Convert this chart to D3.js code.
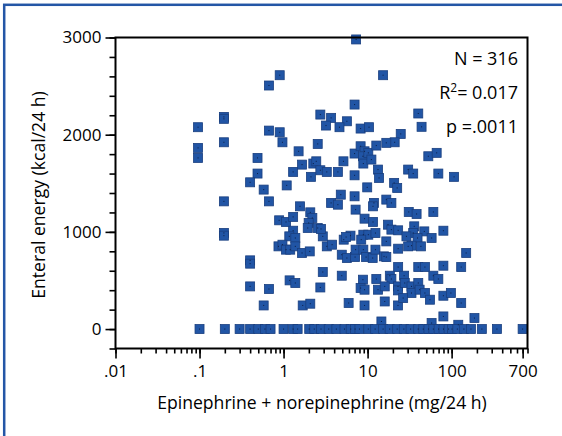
<!DOCTYPE html>
<html>
<head>
<meta charset="utf-8">
<script src="https://cdn.jsdelivr.net/npm/d3@7"></script>
<style>
  body { margin: 0; background: #fff; }
  svg text { font-family: "Open Sans", sans-serif; fill: #000; }
</style>
</head>
<body>
<div class="viz"></div>
<script>
// vasopressor dose (mg/24 h) vs enteral energy (kcal/24 h), one entry per visible marker
const epiNorepi = [
  7.3, 0.90, 0.67, 7.0, 2.74, 3.68, 3.2, 5.67, 4.63, 8.26, 10.4, 0.195, 0.195, 0.096, 0.67, 0.90,
  0.096, 0.096, 0.195, 0.97, 2.55, 1.51, 0.49, 1.66, 2.26, 2.45, 2.74, 3.27, 1.30, 5.16, 4.43, 2.12,
  7.0, 0.49, 0.40, 1.09, 0.58, 0.67, 0.195, 7.0, 8.26, 9.2, 8.8, 10.2, 8.9, 11.1, 12.7, 9.9,
  7.0, 4.8, 3.68, 4.43, 1.57, 7.2, 11.9, 11.6, 0.886, 1.07, 1.30, 2.08, 2.2, 1.99, 1.94, 2.55,
  1.30, 1.17, 1.38, 2.93, 2.79, 9.2, 11.6, 8.9, 10.2, 12.4, 6.26, 5.2, 5.55, 0.87, 0.97, 1.07,
  1.20, 1.38, 1.66, 2.05, 3.27, 3.78, 4.93, 5.67, 7.1, 7.2, 8.9, 9.6, 11.5, 12.4, 8.4, 0.40,
  0.40, 2.93, 1.18, 1.38, 0.40, 0.67, 2.74, 4.93, 8.8, 8.26, 9.2, 13.3, 12.7, 0.58, 1.69, 2.08,
  5.95, 9.2, 0.195, 0.195, 13.3, 13.7,
  15.3, 40.1, 43.9, 24.8, 21.0, 16.7, 52.8, 66.4, 30.4, 34.9, 69.5, 107, 20.7, 22.5, 16.7, 19.2,
  30.9, 38.3, 60.6, 17.5, 19.2, 23.1, 35.9, 34.9, 29.0, 47.3, 57.8, 79.8, 39.3, 33.3, 43.1, 23.1,
  30.4, 16.7, 15.7, 16.7, 149, 130, 79.8, 40.1, 48.1, 23.1, 27.2, 18.4, 19.2, 60.6, 69.5, 16.0,
  23.0, 23.0, 27.7, 33.3, 33.3, 40.1, 41.6, 48.1, 55.2, 79.8, 98, 130, 16.0, 23.0, 26.5, 79.8,
  187, 14.6, 57.8, 120,
  // patients with no enteral energy
  0.1, 0.2, 0.3, 0.4, 0.5, 0.6, 0.7, 1, 1.3, 1.47, 2.02, 2.32, 2.79, 3.45, 4.25, 5.31,
  6.3, 7.1, 8.0, 10.2, 12.3, 15.3, 18.3, 22.5, 27, 32.5, 40, 46, 53, 60.6, 70, 80,
  92, 101, 117, 140, 170, 229, 346, 700
];
const enteralKcal = [
  2980, 2612, 2506, 2310, 2207, 2173, 2094, 2138, 2077, 2063, 2077, 2183, 2163, 2077, 2042, 2025,
  1864, 1761, 1922, 1922, 1905, 1829, 1761, 1692, 1703, 1726, 1634, 1617, 1617, 1726, 1617, 1566,
  1582, 1600, 1510, 1478, 1435, 1314, 1314, 1806, 1881, 1829, 1778, 1813, 1703, 1744, 1888, 1458,
  1366, 1383, 1298, 1280, 1263, 1229, 1298, 1263, 1119, 1102, 1154, 1201, 1143, 1092, 1040, 1040,
  1012, 954, 937, 954, 1030, 1136, 1102, 971, 971, 988, 961, 920, 947, 851, 868, 817,
  817, 851, 783, 799, 851, 868, 765, 731, 741, 817, 817, 741, 731, 817, 920, 707,
  673, 587, 501, 474, 439, 412, 428, 549, 508, 422, 405, 405, 515, 243, 243, 261,
  268, 243, 989, 961, 1641, 1555,
  2612, 2218, 2081, 2008, 1922, 1916, 1778, 1813, 1641, 1600, 1600, 1566, 1504, 1452, 1332, 1298,
  1205, 1184, 1205, 1074, 1023, 1016, 1057, 989, 954, 1005, 937, 1012, 937, 858, 851, 827,
  851, 902, 748, 741, 783, 638, 652, 638, 638, 638, 549, 549, 515, 549, 515, 439,
  439, 398, 474, 439, 371, 474, 405, 371, 302, 343, 371, 268, 284, 243, 319, 130,
  113, 78, 62, 44,
  0, 0, 0, 0, 0, 0, 0, 0, 0, 0, 0, 0, 0, 0, 0, 0,
  0, 0, 0, 0, 0, 0, 0, 0, 0, 0, 0, 0, 0, 0, 0, 0,
  0, 0, 0, 0, 0, 0, 0, 0
];

const xTickValues = [0.01, 0.1, 1, 10, 100, 700];
const xTickLabels = [".01", ".1", "1", "10", "100", "700"];
const yTickValues = [0, 1000, 2000, 3000];
const statLines = ["N = 316", "R2", "p =.0011"];

const points = epiNorepi.map((x, i) => ({ x: x, y: enteralKcal[i] }));

var width = 562, height = 436;
var plot = { left: 115.5, right: 527.5, top: 37.5, bottom: 348.5 };

var svg = d3.select('.viz').append('svg')
    .attr('width', width)
    .attr('height', height);

// blue frame around the figure
svg.append('rect')
    .attr('x', 4.2).attr('y', 4.8)
    .attr('width', 640).attr('height', 600)
    .attr('fill', 'none')
    .attr('stroke', '#2456a6')
    .attr('stroke-width', 2.5);

var x = d3.scaleLog()
    .domain([0.01, 800])
    .range([plot.left, plot.right]);

var y = d3.scaleLinear()
    .domain([-200, 3000])
    .range([plot.bottom, plot.top]);

// minor ticks
var xMinor = [];
for (let p = -2; p <= 2; p++) {
    for (let m = 1; m <= 9; m++) {
        let v = m * Math.pow(10, p);
        if (v <= 800) xMinor.push(v);
    }
}
var yMinor = d3.range(-200, 3001, 200);

var axisG = svg.append('g');

axisG.append('g')
    .attr('transform', 'translate(0,' + plot.bottom + ')')
    .call(d3.axisBottom(x).tickValues(xMinor).tickSize(5).tickFormat(''))
    .call(g => g.select('.domain').remove());

axisG.append('g')
    .attr('transform', 'translate(0,' + plot.bottom + ')')
    .call(d3.axisBottom(x).tickValues(xTickValues).tickSize(10)
        .tickFormat((d, i) => xTickLabels[i]).tickPadding(6))
    .call(g => g.select('.domain').remove())
    .call(g => g.selectAll('text').attr('font-size', 17).attr('fill', '#000')
        .attr('font-family', '"Open Sans", sans-serif'));

axisG.append('g')
    .attr('transform', 'translate(' + plot.left + ',0)')
    .call(d3.axisLeft(y).tickValues(yMinor).tickSize(6).tickFormat(''))
    .call(g => g.select('.domain').remove());

axisG.append('g')
    .attr('transform', 'translate(' + plot.left + ',0)')
    .call(d3.axisLeft(y).tickValues(yTickValues).tickSize(10).tickPadding(4)
        .tickFormat(d3.format('d')))
    .call(g => g.select('.domain').remove())
    .call(g => g.selectAll('text').attr('font-size', 17).attr('fill', '#000')
        .attr('font-family', '"Open Sans", sans-serif'));

axisG.selectAll('.tick line').attr('stroke', '#000').attr('stroke-width', 1.6);

// points
svg.append('g')
    .selectAll('rect')
    .data(points)
    .enter().append('rect')
    .attr('x', d => x(d.x) - 4.5)
    .attr('y', d => y(d.y) - 4.5)
    .attr('width', 9)
    .attr('height', 9)
    .attr('fill', '#2155a5')
    .attr('stroke', '#1a3f7f')
    .attr('stroke-width', 0.8);

svg.append('g')
    .selectAll('rect')
    .data(points)
    .enter().append('rect')
    .attr('x', d => x(d.x) - 0.5)
    .attr('y', d => y(d.y) - 0.5)
    .attr('width', 1)
    .attr('height', 1)
    .attr('fill', '#0c1e44');

// plot box
svg.append('rect')
    .attr('x', plot.left).attr('y', plot.top)
    .attr('width', plot.right - plot.left)
    .attr('height', plot.bottom - plot.top)
    .attr('fill', 'none')
    .attr('stroke', '#000')
    .attr('stroke-width', 2);

// stats
var stats = svg.append('g').attr('font-size', 18).attr('text-anchor', 'end');
stats.append('text').attr('x', 518).attr('y', 65).text(statLines[0]);
var r2 = stats.append('text').attr('x', 518).attr('y', 99);
r2.append('tspan').text('R');
r2.append('tspan').attr('dy', -7).attr('font-size', 12).text('2');
r2.append('tspan').attr('dy', 7).text('= 0.017');
stats.append('text').attr('x', 518).attr('y', 133).text(statLines[2]);

// axis titles
svg.append('text')
    .attr('x', 322).attr('y', 409)
    .attr('text-anchor', 'middle')
    .attr('font-size', 17.6)
    .text('Epinephrine + norepinephrine (mg/24 h)');

svg.append('text')
    .attr('transform', 'translate(45,195) rotate(-90)')
    .attr('text-anchor', 'middle')
    .attr('font-size', 17.6)
    .text('Enteral energy (kcal/24 h)');
</script>
</body>
</html>
